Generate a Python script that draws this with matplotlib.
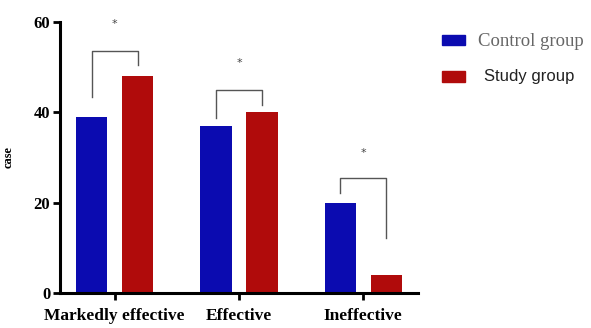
import matplotlib
matplotlib.use("Agg")
from matplotlib import pyplot as plt
import numpy as np

categories = ["Markedly effective", "Effective", "Ineffective"]
control = [39, 37, 20]
study = [48, 40, 4]
# bracket: (top, left leg bottom, right leg bottom, star height)
brackets = [(53.5, 43.5, 50.5, 59.5), (45, 38.7, 41.6, 51), (25.4, 22.1, 12.2, 31)]

blue = "#0b0bb0"
red = "#b00b0b"

fig = plt.figure(figsize=(5.91, 3.28), dpi=100)
ax = fig.add_axes([60/591, 1 - 293/328, 358/591, 271/328])

x = np.arange(len(categories))
off = 0.185
w = 0.25
ax.bar(x - off, control, w, color=blue)
ax.bar(x + off, study, w, color=red)

for i, (top, lb, rb, star) in enumerate(brackets):
	xl, xr = i - off, i + off
	ax.plot([xl, xl, xr, xr], [lb, top, top, rb], color="#555555", lw=1.0, clip_on=False)
	ax.text(i, star, "*", ha="center", va="center", fontsize=8, color="#444444")

ax.set_xlim(-0.44, 2.44)
ax.set_ylim(0, 60)
ax.set_yticks([0, 20, 40, 60])
ax.set_xticks(x)
ax.set_xticklabels(categories, family="Liberation Serif", fontweight="bold", fontsize=12.5)
for t in ax.get_yticklabels():
	t.set_family("Liberation Serif")
	t.set_fontweight("bold")
	t.set_fontsize(12)
ax.set_ylabel("case", family="Liberation Serif", fontweight="bold", fontsize=9, labelpad=14)

for s in ["top", "right"]:
	ax.spines[s].set_visible(False)
for s in ["left", "bottom"]:
	ax.spines[s].set_linewidth(2.2)
ax.tick_params(width=2, length=5)
ax.tick_params(axis="x", pad=6)
ax.tick_params(axis="y", pad=2)

# legend
fig.patches.append(plt.Rectangle((442/591, 1 - 45/328), 23/591, 10/328, color=blue, transform=fig.transFigure))
fig.patches.append(plt.Rectangle((442/591, 1 - 82/328), 23/591, 11/328, color=red, transform=fig.transFigure))
fig.text(478/591, 1 - 41/328, "Control group", family="Liberation Serif", fontsize=13.5, color="#666666", va="center")
fig.text(484/591, 1 - 76/328, "Study group", family="Liberation Sans", fontsize=12, color="#222222", va="center")

plt.savefig("out.png", dpi=100)
